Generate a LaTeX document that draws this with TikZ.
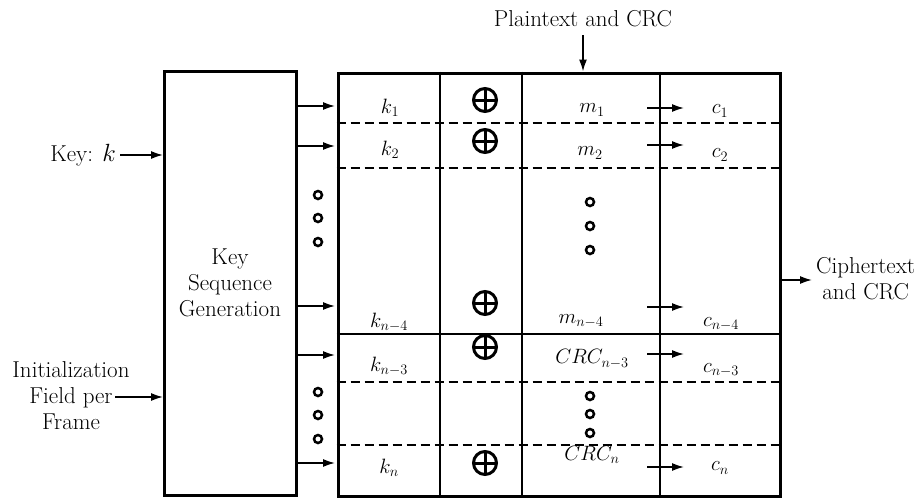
\documentclass[tikz,border=0pt]{standalone}
\usetikzlibrary{arrows.meta}
\begin{document}
\begin{tikzpicture}[x=1pt,y=-1pt,
  lbl/.style={font=\fontsize{23}{26}\selectfont, inner sep=0pt},
  mlbl/.style={font=\fontsize{21.5}{25}\selectfont, inner sep=0pt},
  thickbox/.style={draw, line width=3pt, inner sep=0pt},
  gridline/.style={line width=1.5pt},
  dashline/.style={line width=1.5pt, dash pattern=on 9pt off 5pt},
  arr/.style={line width=1.6pt, -{Latex[length=12pt,width=8pt]}},
  xorsym/.style={circle, draw, line width=3pt, minimum size=23pt, inner sep=0pt,
    path picture={\draw[line width=3pt] (path picture bounding box.north) -- (path picture bounding box.south)
      (path picture bounding box.west) -- (path picture bounding box.east);}},
  dotc/.style={circle, draw, line width=2.5pt, minimum size=8pt, inner sep=0pt}
]
\useasboundingbox (0,0) rectangle (920,498);

% boxes
\node[thickbox, minimum width=132pt, minimum height=424pt] (ksg) at (230.5,283.5) {};
\node[thickbox, minimum width=442pt, minimum height=423pt] (frame) at (559,284.5) {};
\node[lbl, align=center] (ksgtxt) at (230,283) {Key\\Sequence\\Generation};

% internal grid
\coordinate (c1) at (440,0);
\coordinate (c2) at (522,0);
\coordinate (c3) at (660,0);
\foreach \c in {c1,c2,c3}{
  \draw[gridline] (frame.north -| \c) -- (frame.south -| \c);
}
\coordinate (r1) at (0,123);
\coordinate (r2) at (0,168);
\coordinate (r3) at (0,334);
\coordinate (r4) at (0,382);
\coordinate (r5) at (0,445);
\foreach \r in {r1,r2,r4,r5}{
  \draw[dashline] (frame.west |- \r) -- (frame.east |- \r);
}
\draw[gridline] (frame.west |- r3) -- (frame.east |- r3);

% k labels
\node[mlbl] (k1) at (390,108) {$k_1$};
\node[mlbl] (k2) at (390,150) {$k_2$};
\node[mlbl] (k3) at (389,322) {$k_{n-4}$};
\node[mlbl] (k4) at (389,366) {$k_{n-3}$};
\node[mlbl] (k5) at (389,468) {$k_n$};

% key arrows
\coordinate (a1) at (0,106);
\coordinate (a2) at (0,146);
\coordinate (a3) at (0,306);
\coordinate (a4) at (0,355);
\coordinate (a5) at (0,463);
\foreach \a in {a1,a2,a3,a4,a5}{
  \draw[arr] (ksg.east |- \a) -- ([xshift=-1.5pt]frame.west |- \a);
}

% xor symbols
\node[xorsym] (x1) at (485,100) {};
\node[xorsym] (x2) at (485,141) {};
\node[xorsym] (x3) at (485,303) {};
\node[xorsym] (x4) at (485,347) {};
\node[xorsym] (x5) at (485,463) {};

% m labels
\node[mlbl] (m1) at (592,110) {$m_1$};
\node[mlbl] (m2) at (590,153) {$m_2$};
\node[mlbl] (m3) at (581,321) {$m_{n-4}$};
\node[mlbl] (m4) at (592,359) {$CRC_{n-3}$};
\node[mlbl] (m5) at (592,455) {$CRC_n$};

% c labels
\node[mlbl] (o1) at (720,111) {$c_1$};
\node[mlbl] (o2) at (720,155) {$c_2$};
\node[mlbl] (o3) at (721,324) {$c_{n-4}$};
\node[mlbl] (o4) at (721,370) {$c_{n-3}$};
\node[mlbl] (o5) at (720,468) {$c_n$};

% m->c arrows
\coordinate (b1) at (0,108);
\coordinate (b2) at (0,145);
\coordinate (b3) at (0,307);
\coordinate (b4) at (0,354);
\coordinate (b5) at (0,467);
\coordinate (bs) at (647,0);
\coordinate (be) at (684,0);
\foreach \b in {b1,b2,b3,b4,b5}{
  \draw[arr] (bs |- \b) -- (be |- \b);
}

% dots
\foreach \y [count=\i] in {195,218,242}{
  \node[dotc] (dl\i) at (318,\y) {};
}
\foreach \y [count=\i] in {392,415,439}{
  \node[dotc] (dm\i) at (318,\y) {};
}
\foreach \y [count=\i] in {202,226,250}{
  \node[dotc] (du\i) at (590,\y) {};
}
\foreach \y [count=\i] in {396,414,433}{
  \node[dotc] (dv\i) at (590,\y) {};
}

% external labels
\node[lbl] (pt) at (583,19) {Plaintext and CRC};
\draw[arr] ([yshift=-8pt]pt.south) -- (pt.south |- frame.north);

\node[lbl, anchor=east] (key) at (116,155) {Key: $k$};
\draw[arr] ([xshift=4pt]key.east) -- (key.east -| ksg.west);

\node[lbl, align=center] (init) at (71,396) {Initialization\\Field per\\Frame};
\coordinate (initarr) at (115,397);
\draw[arr] (initarr) -- (initarr -| ksg.west);

\coordinate (ciparr) at (812,280);
\draw[arr] (frame.east |- ciparr) -- (ciparr);
\node[lbl, align=center, anchor=west] (cip) at (816,279) {Ciphertext\\and CRC};
\end{tikzpicture}
\end{document}
